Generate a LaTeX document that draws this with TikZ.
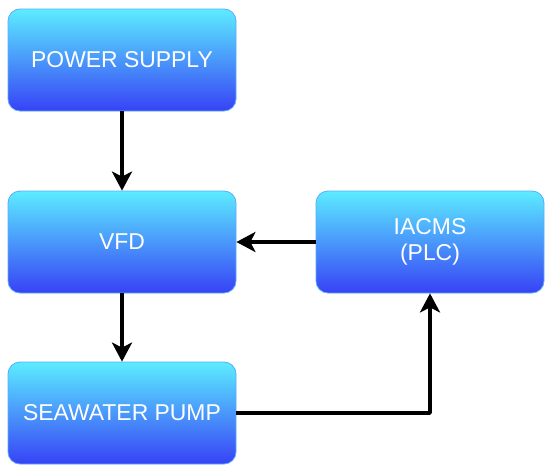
\documentclass[tikz,border=0pt]{standalone}
\usepackage{fontspec}
\setmainfont{Liberation Sans}
\usetikzlibrary{arrows.meta}
\definecolor{boxtop}{RGB}{92,236,255}
\definecolor{boxbottom}{RGB}{55,66,246}
\definecolor{boxline}{RGB}{90,170,255}
\begin{document}
\begin{tikzpicture}[line join=bevel,
  block/.style={draw=boxline,line width=0.8bp,rounded corners=12bp,
    top color=boxtop,bottom color=boxbottom,minimum width=228bp,minimum height=102bp,
    text=white,align=center,font=\fontsize{23}{26}\selectfont},
  link/.style={line width=3.5bp,-{Stealth[length=19bp,width=20bp,inset=5bp]}}]
\useasboundingbox (0bp,0bp) rectangle (550bp,-474bp);
%%
\node (power) at (122bp,-60bp) [block] {POWER SUPPLY};
  \node (vfd) at (122bp,-242bp) [block] {VFD};
  \node (pump) at (122bp,-413bp) [block] {SEAWATER PUMP};
  \node (plc) at (430bp,-242bp) [block] {IACMS\\(PLC)};
  \draw [link] (power) -- (vfd);
  \draw [link] (vfd) -- (pump);
  \draw [link] (plc) -- (vfd);
  \draw [link] (pump) -| (plc);
%
\end{tikzpicture}
\end{document}
